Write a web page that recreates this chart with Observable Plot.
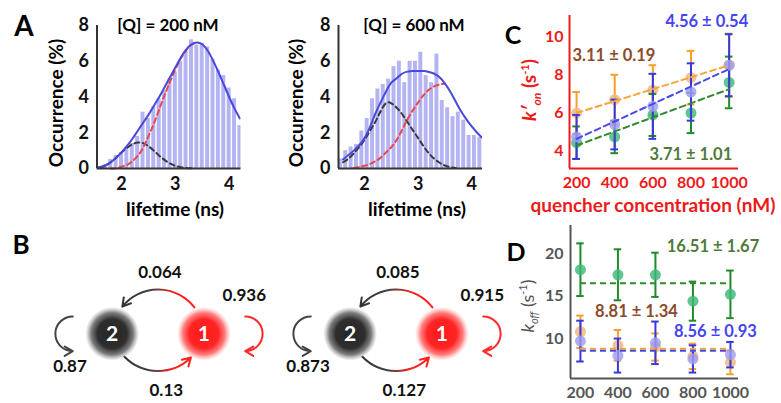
<!DOCTYPE html>
<html><head><meta charset="utf-8">
<script src="https://cdn.jsdelivr.net/npm/d3@7"></script>
<script src="https://cdn.jsdelivr.net/npm/@observablehq/plot@0.6"></script>
<style>
html,body{margin:0;padding:0;background:#fff;}
#root{position:relative;width:781px;height:403px;overflow:hidden;font-family:Lato,"DejaVu Sans",sans-serif;font-weight:bold;background:#fff;}
#root svg{position:absolute;overflow:visible;}
.lbl{position:absolute;white-space:nowrap;transform:translate(-50%,-50%);line-height:1;}
.rot{transform:translate(-50%,-50%) rotate(-90deg);}
</style></head><body><div id="root"></div>
<script>
// ================= DATA =================
// Panel A: lifetime histograms
const histConcentrations = [200, 600];
const lifetimeTicks = [2, 3, 4];
const occurrenceTicks = [0, 2, 4, 6, 8];
const binCenter200 = [1.6,1.7,1.8,1.9,2.0,2.1,2.2,2.3,2.4,2.5,2.6,2.7,2.8,2.9,3.0,3.1,3.2,3.3,3.4,3.5,3.6,3.7,3.8,3.9,4.0,4.1,4.2];
const occurrence200 = [0.05,0.2,0.5,0.72,0.9,1.2,1.4,1.8,3.15,2.8,3.45,3.9,4.35,5.0,5.4,6.0,6.55,7.2,6.9,7.0,6.8,6.1,5.5,5.2,4.5,3.9,2.4];
const binCenter600 = [1.55,1.65,1.75,1.85,1.95,2.05,2.15,2.25,2.35,2.45,2.55,2.65,2.75,2.85,2.95,3.05,3.15,3.25,3.35,3.45,3.55,3.65,3.75,3.85,3.95,4.05,4.15];
const occurrence600 = [0.54,1.0,1.2,1.35,2.1,2.8,3.9,4.45,4.7,5.0,5.7,6.0,4.8,6.0,6.0,6.5,5.2,4.8,6.4,3.8,3.4,2.9,3.15,2.7,1.85,1.85,1.75];
const curveLifetime = [1.5,1.6,1.7,1.8,1.9,2.0,2.1,2.2,2.3,2.4,2.5,2.6,2.7,2.8,2.9,3.0,3.1,3.2,3.3,3.4,3.5,3.6,3.7,3.8,3.9,4.0,4.1,4.2];
const fitTotal200  = [0.02,0.08,0.18,0.35,0.6,0.9,1.25,1.65,2.1,2.55,3.0,3.5,4.0,4.55,5.1,5.65,6.2,6.65,6.95,7.05,6.95,6.6,6.05,5.4,4.7,4.0,3.35,2.8];
const fitState2_200 = [null,0.05,0.15,0.35,0.6,0.9,1.15,1.35,1.45,1.42,1.25,1.0,0.72,0.48,0.28,0.15,0.07,0.03,0.01,null,null,null,null,null,null,null,null,null];
const fitState1_200 = [null,null,null,0.0,0.02,0.1,0.2,0.4,0.7,1.15,1.8,2.5,3.3,4.1,4.85,5.55,6.15,6.6,6.92,7.03,null,null,null,null,null,null,null,null];
const fitTotal600  = [null,0.5,0.75,1.0,1.3,1.7,2.3,3.05,3.7,4.3,4.8,5.05,5.3,5.42,5.45,5.45,5.45,5.4,5.3,5.1,4.75,4.3,3.75,3.2,2.75,2.35,2.0,1.7];
const fitState2_600 = [null,0.35,0.55,0.85,1.2,1.6,2.1,2.6,3.2,3.65,3.65,3.4,3.05,2.6,2.15,1.7,1.25,0.85,0.55,0.32,0.17,0.08,0.03,null,null,null,null,null];
const fitState1_600 = [null,null,null,0.03,0.08,0.15,0.25,0.4,0.6,0.9,1.2,1.6,2.15,2.75,3.25,3.7,4.1,4.4,4.6,4.7,4.75,null,null,null,null,null,null,null];

// Panel B: transition probabilities (left: 200 nM, right: 600 nM)
const stateNames = ["2", "1"];
const stay1 = [0.936, 0.915];
const hop1to2 = [0.064, 0.085];
const hop2to1 = [0.13, 0.127];
const stay2 = [0.87, 0.873];

// Panel C: k'on vs quencher concentration
const concentrations = [200, 400, 600, 800, 1000];
const konTicks = [4, 6, 8, 10];
const konOrange = [6.0, 6.7, 7.2, 7.85, 8.5];
const konOrangeErr = [1.1, 1.3, 1.3, 1.4, 1.65];
const konBlue = [4.75, 5.4, 6.35, 7.1, 8.5];
const konBlueErr = [1.15, 1.3, 1.7, 1.5, 1.62];
const konGreen = [4.45, 4.75, 5.9, 6.0, 7.6];
const konGreenErr = [0.85, 0.85, 1.1, 1.05, 1.35];
const konFitAt200 = [6.0, 4.65, 4.3];     // orange, blue, green
const konFitAt1000 = [8.5, 8.3, 7.25];
const konSlopeText = ["3.11 ± 0.19", "4.56 ± 0.54", "3.71 ± 1.01"];

// Panel D: k_off vs quencher concentration
const koffTicks = [10, 15, 20];
const koffOrange = [10.8, 9.2, 9.0, 7.9, 7.2];
const koffOrangeErr = [1.9, 1.8, 1.6, 1.5, 1.4];
const koffBlue = [9.7, 8.0, 9.5, 7.6, 8.1];
const koffBlueErr = [2.4, 2.0, 2.5, 1.6, 1.5];
const koffGreen = [18.1, 17.5, 17.5, 14.4, 15.2];
const koffGreenErr = [3.1, 3.0, 2.6, 2.3, 2.8];
const koffMean = [8.81, 8.56, 16.51];     // orange, blue, green
const koffMeanText = ["8.81 ± 1.34", "8.56 ± 0.93", "16.51 ± 1.67"];

// ================= STYLES / LAYOUT =================
const FONT = "Lato, 'DejaVu Sans', sans-serif";
const root = document.getElementById("root");
const fmt = (d) => String(d);
function place(svg, left, top) { svg.style.left = left + "px"; svg.style.top = top + "px"; root.appendChild(svg); }
function label(html, x, y, css = {}, rotate = false) {
  const d = document.createElement("div");
  d.className = "lbl" + (rotate ? " rot" : "");
  d.innerHTML = html;
  d.style.left = x + "px"; d.style.top = y + "px";
  Object.assign(d.style, css);
  root.appendChild(d);
}
const baseStyle = (color, size = 17) => ({fontFamily: FONT, fontSize: size + "px", fontWeight: "bold", color, background: "none", overflow: "visible"});

// ================= PANEL A =================
function histogram(centers, occ, total, s1, s2, xDomain, width, marginLeft, marginRight) {
  const half = 0.05;
  const bars = centers.map((c, i) => ({c, v: occ[i]}));
  const pts = (arr) => curveLifetime.map((t, i) => ({t, v: arr[i]})).filter(d => d.v != null);
  return Plot.plot({
    width, height: 225, marginLeft, marginRight, marginTop: 25, marginBottom: 57,
    x: {domain: xDomain, ticks: lifetimeTicks, tickFormat: fmt, tickSize: 0, tickPadding: 9, label: null},
    y: {domain: [0, 8], ticks: occurrenceTicks, tickFormat: fmt, tickSize: 0, tickPadding: 8, label: null},
    style: baseStyle("#111", 18),
    marks: [
      Plot.rectY(bars, {x1: d => d.c - half, x2: d => d.c + half, y: "v", fill: "#b4b4f2", insetLeft: 0.7, insetRight: 0.7, clip: true}),
      Plot.line(pts(s2), {x: "t", y: "v", stroke: "#3a3a3a", strokeWidth: 2, strokeDasharray: "5,3.5", curve: "natural"}),
      Plot.line(pts(s1), {x: "t", y: "v", stroke: "#f04545", strokeWidth: 2, strokeDasharray: "5,3.5", curve: "natural"}),
      Plot.line(pts(total), {x: "t", y: "v", stroke: "#4848dc", strokeWidth: 2, curve: "natural", clip: true}),
      Plot.ruleX([xDomain[0]], {stroke: "#333", strokeWidth: 2}),
      Plot.ruleY([0], {stroke: "#333", strokeWidth: 2})
    ]
  });
}
place(histogram(binCenter200, occurrence200, fitTotal200, fitState1_200, fitState2_200, [1.545, 4.22], 260, 96.5, 19.5), 0, 0);
place(histogram(binCenter600, occurrence600, fitTotal600, fitState1_600, fitState2_600, [1.515, 4.2], 250, 88, 18), 250, 0);

label("A", 24, 25, {fontSize: "28px"});
histConcentrations.forEach((c, i) => {
  const cx = [168, 414][i], ylx = [55, 295][i], lx = [175, 417][i];
  label(`[Q] = ${c} nM`, cx, 24, {fontSize: "17px"});
  label("Occurrence (%)", ylx, 103, {fontSize: "19px"}, true);
  label("lifetime (ns)", lx, 208, {fontSize: "19px"});
});

// ================= PANEL B =================
function diagram(i) {
  const id = "dg" + i;
  const nodes = stateNames.map((s, k) => ({s, x: k}));
  const hopTop = [{from: 1, to: 0, p: hop1to2[i], lx: 0.52, ly: 0.67}];
  const hopBottom = [{from: 0, to: 1, p: hop2to1[i], lx: 0.59, ly: -0.62}];
  const loopLeft = [{x: -0.43, p: stay2[i], lx: -0.46, ly: -0.36}];
  const loopRight = [{x: 1.45, p: stay1[i], lx: 1.44, ly: 0.42}];
  const arrowOpts = {strokeWidth: 2, headLength: 7};
  const svg = Plot.plot({
    width: 240, height: 140, margin: 0,
    x: {domain: [-0.782, 1.835], axis: null},
    y: {domain: [-0.782, 0.745], axis: null},
    style: baseStyle("#111"),
    marks: [
      Plot.arrow(hopTop, {x1: "from", x2: "to", y1: 0, y2: 0, bend: -88, insetStart: 28, insetEnd: 29, stroke: `url(#${id}arc)`, ...arrowOpts}),
      Plot.arrow(hopBottom, {x1: "from", x2: "to", y1: 0, y2: 0, bend: -78, insetStart: 26, insetEnd: 27, stroke: `url(#${id}arc)`, ...arrowOpts}),
      Plot.arrow(loopLeft, {x1: "x", x2: "x", y1: 0.19, y2: -0.19, bend: -90, stroke: "#444", ...arrowOpts}),
      Plot.arrow(loopRight, {x1: "x", x2: "x", y1: 0.19, y2: -0.19, bend: 90, stroke: "#ff2a2a", ...arrowOpts}),
      Plot.dot(nodes.filter(d => d.s === "2"), {x: "x", y: 0, r: 27, fill: `url(#${id}dark)`}),
      Plot.dot(nodes.filter(d => d.s === "1"), {x: "x", y: 0, r: 27, fill: `url(#${id}red)`}),
      Plot.text(nodes, {x: "x", y: 0, text: "s", fill: "white", fontSize: 21, fontWeight: "bold"}),
      Plot.text([...hopTop, ...hopBottom, ...loopLeft, ...loopRight], {x: "lx", y: "ly", text: d => String(d.p), fontSize: 17, fontWeight: "bold", fill: "#111"})
    ]
  });
  const defs = d3.select(svg).insert("defs", ":first-child");
  const lg = defs.append("linearGradient").attr("id", id + "arc").attr("x1", 0).attr("x2", 1).attr("y1", 0).attr("y2", 0);
  [[0, "#333"], [0.4, "#444"], [0.72, "#ff2020"], [1, "#ff2020"]].forEach(([o, c]) => lg.append("stop").attr("offset", o).attr("stop-color", c));
  const rd = defs.append("radialGradient").attr("id", id + "dark");
  [[0, "#262626", 1], [0.55, "#2e2e2e", 1], [0.78, "#505050", 0.75], [1, "#888", 0]].forEach(([o, c, a]) => rd.append("stop").attr("offset", o).attr("stop-color", c).attr("stop-opacity", a));
  const rr = defs.append("radialGradient").attr("id", id + "red");
  [[0, "#ff1818", 1], [0.55, "#ff2525", 1], [0.78, "#ff5050", 0.75], [1, "#ff9090", 0]].forEach(([o, c, a]) => rr.append("stop").attr("offset", o).attr("stop-color", c).attr("stop-opacity", a));
  return svg;
}
place(diagram(0), 40, 265);
place(diagram(1), 278, 265);
label("B", 21, 244, {fontSize: "26px"});

// ================= PANELS C & D =================
const capHalf = 20;
function seriesMarks(ys, es, dotFill, barColor) {
  const rows = concentrations.map((x, i) => ({x, y: ys[i], lo: ys[i] - es[i], hi: ys[i] + es[i]}));
  return [
    Plot.ruleX(rows, {x: "x", y1: "lo", y2: "hi", stroke: barColor, strokeWidth: 2}),
    Plot.ruleY(rows, {y: "hi", x1: d => d.x - capHalf, x2: d => d.x + capHalf, stroke: barColor, strokeWidth: 2}),
    Plot.ruleY(rows, {y: "lo", x1: d => d.x - capHalf, x2: d => d.x + capHalf, stroke: barColor, strokeWidth: 2}),
    Plot.dot(rows, {x: "x", y: "y", r: 5.5, fill: dotFill, fillOpacity: 0.82})
  ];
}
const first = concentrations[0], last = concentrations[concentrations.length - 1];
const colOrange = {dot: "#f3b57a", bar: "#f5a02a", fit: "#f7a53a", text: "#8c4a2a"};
const colBlue = {dot: "#9d9df0", bar: "#3838dd", fit: "#4848ea", text: "#4545ee"};
const colGreen = {dot: "#3db877", bar: "#1f8a2a", fit: "#2e8a2e", text: "#4e7a3a"};

const cPlot = Plot.plot({
  width: 281, height: 225, marginLeft: 69, marginRight: 43, marginTop: 15, marginBottom: 57,
  x: {domain: [163, 1049], ticks: concentrations, tickFormat: fmt, tickSize: 0, tickPadding: 8, label: null},
  y: {domain: [3.1, 11.1], ticks: konTicks, tickFormat: fmt, tickSize: 0, tickPadding: 6, label: null},
  style: baseStyle("#ec1a1a", 16),
  marks: [
    ...seriesMarks(konOrange, konOrangeErr, colOrange.dot, colOrange.bar),
    ...seriesMarks(konGreen, konGreenErr, colGreen.dot, colGreen.bar),
    ...seriesMarks(konBlue, konBlueErr, colBlue.dot, colBlue.bar),
    ...[colOrange, colBlue, colGreen].map((c, k) =>
      Plot.line([{x: first, y: konFitAt200[k]}, {x: last, y: konFitAt1000[k]}], {x: "x", y: "y", stroke: c.fit, strokeWidth: 2, strokeDasharray: "6,4"})),
    Plot.text(konSlopeText.map((t, k) => ({t, k})), {
      x: d => [396, 883, 799][d.k], y: d => [9.0, 10.75, 3.83][d.k], text: "t",
      fill: d => [colOrange.text, colBlue.text, colGreen.text][d.k], fontSize: 16.5, fontWeight: "bold"}),
    Plot.ruleX([163], {stroke: "#ec1a1a", strokeWidth: 2}),
    Plot.ruleY([3.1], {stroke: "#ec1a1a", strokeWidth: 2})
  ]
});
place(cPlot, 500, 0);
label("C", 513, 34, {fontSize: "25px"});
label("quencher concentration (nM)", 653, 204, {fontSize: "19px", color: "#ec1a1a"});
label("<i>k′<sub style='font-size:12px'>on</sub></i> (s<sup style='font-size:11px'>-1</sup>)", 531, 90, {fontSize: "19px", color: "#ec1a1a"}, true);

const dPlot = Plot.plot({
  width: 281, height: 188, marginLeft: 70, marginRight: 43, marginTop: 10, marginBottom: 25,
  x: {domain: [147, 1043], ticks: concentrations, tickFormat: fmt, tickSize: 0, tickPadding: 8, label: null},
  y: {domain: [5.3, 23.3], ticks: koffTicks, tickFormat: fmt, tickSize: 0, tickPadding: 7, label: null},
  style: baseStyle("#555", 16),
  marks: [
    ...seriesMarks(koffOrange, koffOrangeErr, colOrange.dot, colOrange.bar),
    ...seriesMarks(koffBlue, koffBlueErr, colBlue.dot, colBlue.bar),
    ...seriesMarks(koffGreen, koffGreenErr, colGreen.dot, colGreen.bar),
    ...[colOrange, colBlue, colGreen].map((c, k) =>
      Plot.ruleY([koffMean[k]], {x1: first, x2: last, stroke: c.fit, strokeWidth: 2, strokeDasharray: "6,4"})),
    Plot.text(koffMeanText.map((t, k) => ({t, k})), {
      x: d => [499, 920, 907][d.k], y: d => [13.1, 10.75, 20.75][d.k], text: "t",
      fill: d => [colOrange.text, colBlue.text, colGreen.text][d.k], fontSize: 16.5, fontWeight: "bold"}),
    Plot.ruleX([147], {stroke: "#555", strokeWidth: 2}),
    Plot.ruleY([5.3], {stroke: "#555", strokeWidth: 2})
  ]
});
place(dPlot, 500, 215);
label("D", 516, 251, {fontSize: "25px"});
label("<i>k<sub style='font-size:11px'>off</sub></i> (s<sup style='font-size:11px'>-1</sup>)", 528, 306, {fontSize: "18px", color: "#555", fontWeight: "normal"}, true);
</script></body></html>
